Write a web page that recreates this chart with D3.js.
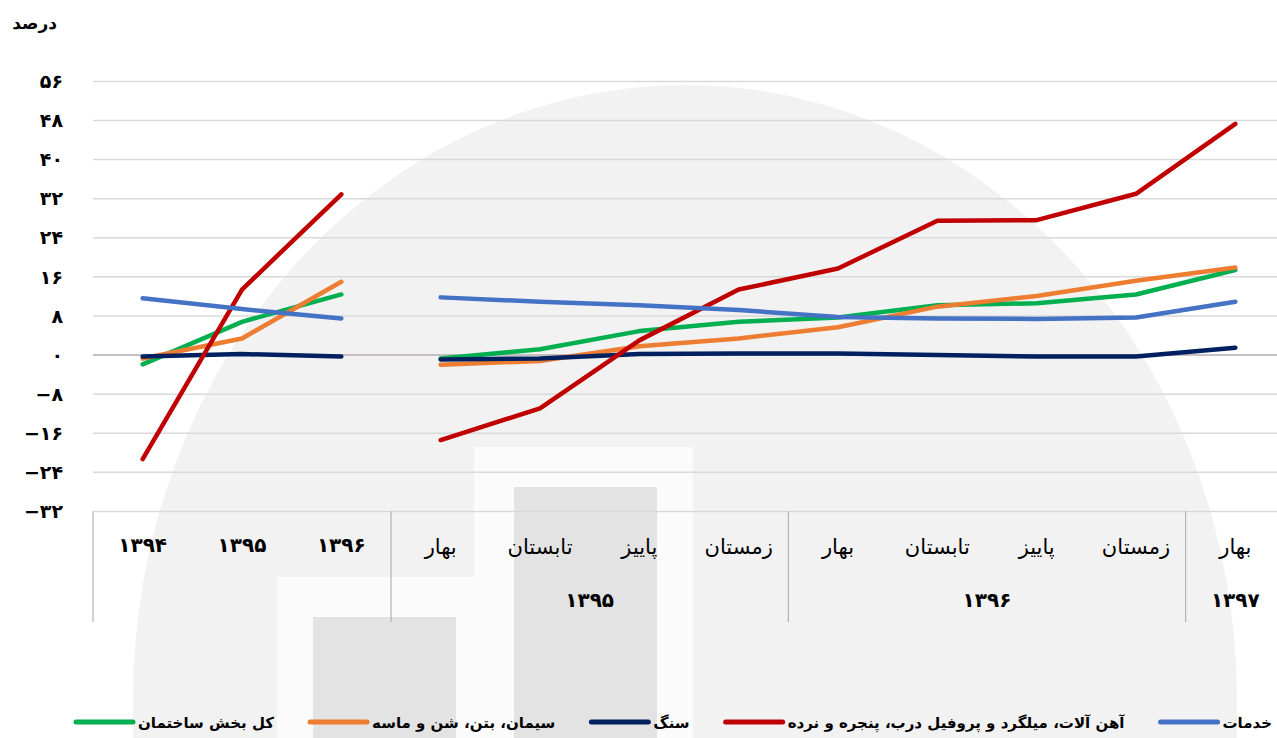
<!DOCTYPE html>
<html>
<head>
<meta charset="utf-8">
<script src="https://cdn.jsdelivr.net/npm/d3@7"></script>
<style>
  body { margin: 0; background: #fff; }
  svg { display: block; font-family: "DejaVu Sans", sans-serif; }
</style>
</head>
<body>
<div id="chart"></div>
<script>
// categories: 3 annual points, then 9 seasonal points
var annualLabels = ["1394", "1395", "1396"];
var seasonLabels = ["بهار", "تابستان", "پاییز", "زمستان", "بهار", "تابستان", "پاییز", "زمستان", "بهار"];
var yearGroups = [
  { name: "1395", from: 3, to: 6 },
  { name: "1396", from: 7, to: 10 },
  { name: "1397", from: 11, to: 11 }
];
var yTicks = [-32, -24, -16, -8, 0, 8, 16, 24, 32, 40, 48, 56];

var seriesNames = ["کل بخش ساختمان", "سیمان، بتن، شن و ماسه", "سنگ", "آهن آلات، میلگرد و پروفیل درب، پنجره و نرده", "خدمات"];
var seriesColors = ["#00b050", "#ed7d31", "#002060", "#c00000", "#4472c4"];

// annual values (1394..1396)
var totalAnnual   = [-1.9, 6.8, 12.4];
var cementAnnual  = [-0.7, 3.4, 15.0];
var stoneAnnual   = [-0.3, 0.2, -0.3];
var ironAnnual    = [-21.3, 13.4, 32.9];
var serviceAnnual = [11.6, 9.4, 7.5];

// seasonal values (spring 1395 .. spring 1397)
var totalSeason   = [-0.7, 1.2, 4.9, 6.8, 7.7, 10.2, 10.6, 12.4, 17.4];
var cementSeason  = [-2.0, -1.2, 1.8, 3.4, 5.7, 9.9, 12.1, 15.2, 17.9];
var stoneSeason   = [-0.9, -0.7, 0.2, 0.3, 0.3, 0.0, -0.3, -0.3, 1.5];
var ironSeason    = [-17.4, -10.9, 3.0, 13.4, 17.7, 27.5, 27.6, 33.0, 47.3];
var serviceSeason = [11.8, 10.9, 10.2, 9.2, 7.8, 7.5, 7.4, 7.7, 10.9];

var annualData = [totalAnnual, cementAnnual, stoneAnnual, ironAnnual, serviceAnnual];
var seasonData = [totalSeason, cementSeason, stoneSeason, ironSeason, serviceSeason];

function fa(s) {
  return String(s).replace(/-/g, "\u2212").replace(/\d/g, function (d) { return "۰۱۲۳۴۵۶۷۸۹"[d]; });
}

var width = 1277, height = 738;
var svg = d3.select("#chart").append("svg")
  .attr("width", width)
  .attr("height", height);

var nCat = annualLabels.length + seasonLabels.length;
var x = d3.scaleBand().domain(d3.range(nCat)).range([93, 1285]);
var y = d3.scaleLinear().domain([-32, 56]).range([511.4, 81.4]);
var cx = function (i) { return x(i) + x.bandwidth() / 2; };

// watermark logo in the background
var wm = svg.append("g");
wm.append("path")
  .attr("d", "M133,738 L133,700 A552,615 0 0 1 1237,700 L1237,738 Z")
  .attr("fill", "#f2f2f2");
wm.append("rect").attr("x", 474).attr("y", 447).attr("width", 219).attr("height", 300).attr("fill", "#fbfbfb");
wm.append("rect").attr("x", 514).attr("y", 487).attr("width", 143).attr("height", 260).attr("fill", "#e3e3e3");
wm.append("rect").attr("x", 277).attr("y", 577).attr("width", 197).attr("height", 170).attr("fill", "#fbfbfb");
wm.append("rect").attr("x", 313).attr("y", 617).attr("width", 143).attr("height", 130).attr("fill", "#e3e3e3");

// grid
svg.append("g").selectAll("line")
  .data(yTicks.filter(function (d) { return d > -32; }))
  .enter().append("line")
  .attr("x1", 93).attr("x2", width)
  .attr("y1", function (d) { return y(d); })
  .attr("y2", function (d) { return y(d); })
  .attr("stroke", function (d) { return d === 0 ? "#b3aeae" : "#d9d9d9"; })
  .attr("stroke-width", 1.5);

// y labels
svg.append("g").selectAll("text")
  .data(yTicks)
  .enter().append("text")
  .attr("x", 63)
  .attr("y", function (d) { return y(d); })
  .attr("dy", "0.35em")
  .attr("text-anchor", "end")
  .attr("font-size", 19)
  .attr("font-weight", "bold")
  .text(function (d) { return fa(d); });

svg.append("text")
  .attr("x", 57).attr("y", 23)
  .attr("dy", "0.35em")
  .attr("text-anchor", "end")
  .attr("font-size", 17)
  .attr("font-weight", "bold")
  .text("درصد");

// category axis
var axisY = y(-32);
svg.append("line")
  .attr("x1", 93).attr("x2", width)
  .attr("y1", axisY).attr("y2", axisY)
  .attr("stroke", "#d9d9d9").attr("stroke-width", 1.5);

var seps = [0, 3, 7, 11, 12];
svg.append("g").selectAll("line")
  .data(seps)
  .enter().append("line")
  .attr("x1", function (d) { return d < nCat ? x(d) : x(nCat - 1) + x.bandwidth(); })
  .attr("x2", function (d) { return d < nCat ? x(d) : x(nCat - 1) + x.bandwidth(); })
  .attr("y1", axisY).attr("y2", 622)
  .attr("stroke", "#a6a6a6").attr("stroke-width", 1);

svg.append("g").selectAll("text")
  .data(annualLabels)
  .enter().append("text")
  .attr("x", function (d, i) { return cx(i); })
  .attr("y", 545)
  .attr("dy", "0.35em")
  .attr("text-anchor", "middle")
  .attr("font-size", 20)
  .attr("font-weight", "bold")
  .text(function (d) { return fa(d); });

svg.append("g").selectAll("text")
  .data(seasonLabels)
  .enter().append("text")
  .attr("x", function (d, i) { return cx(i + annualLabels.length); })
  .attr("y", 547)
  .attr("dy", "0.35em")
  .attr("text-anchor", "middle")
  .attr("font-size", 21)
  .text(function (d) { return d; });

svg.append("g").selectAll("text")
  .data(yearGroups)
  .enter().append("text")
  .attr("x", function (d) { return (x(d.from) + x(d.to) + x.bandwidth()) / 2; })
  .attr("y", 600)
  .attr("dy", "0.35em")
  .attr("text-anchor", "middle")
  .attr("font-size", 20)
  .attr("font-weight", "bold")
  .text(function (d) { return fa(d.name); });

// lines
var line = d3.line()
  .x(function (d) { return cx(d.i); })
  .y(function (d) { return y(d.v); });

var lines = svg.append("g");
seriesNames.forEach(function (name, s) {
  var a = annualData[s].map(function (v, i) { return { i: i, v: v }; });
  var q = seasonData[s].map(function (v, i) { return { i: i + annualLabels.length, v: v }; });
  [a, q].forEach(function (pts) {
    lines.append("path")
      .attr("d", line(pts))
      .attr("fill", "none")
      .attr("stroke", seriesColors[s])
      .attr("stroke-width", 4.5)
      .attr("stroke-linecap", "round")
      .attr("stroke-linejoin", "round");
  });
});

// legend
var legend = svg.append("g");
var items = seriesNames.map(function (name, s) {
  var g = legend.append("g");
  g.append("line")
    .attr("x1", 0).attr("x2", 57)
    .attr("y1", 0).attr("y2", 0)
    .attr("stroke", seriesColors[s])
    .attr("stroke-width", 5)
    .attr("stroke-linecap", "round");
  var t = g.append("text")
    .attr("x", 62).attr("y", 1)
    .attr("dy", "0.35em")
    .attr("font-size", 15)
    .attr("font-weight", "bold")
    .text(name);
  return { g: g, w: 62 + t.node().getComputedTextLength() };
});
var totalW = d3.sum(items, function (d) { return d.w; });
var gap = (1272 - 76 - totalW) / (items.length - 1);
var lx = 76;
items.forEach(function (d) {
  d.g.attr("transform", "translate(" + lx + ",722)");
  lx += d.w + gap;
});
</script>
</body>
</html>
